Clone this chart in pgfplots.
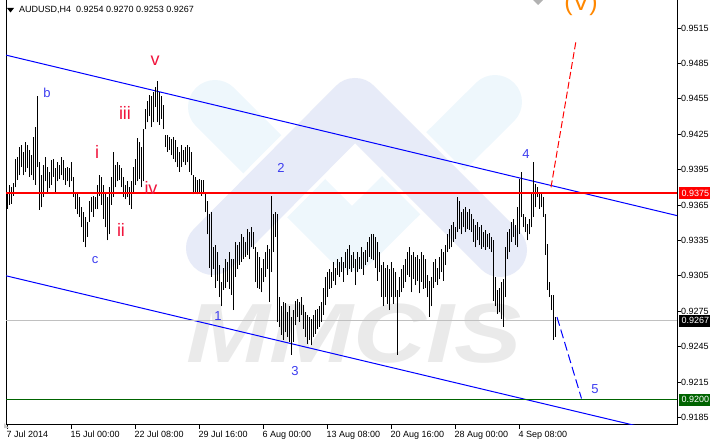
\documentclass[border=0pt]{standalone}
\usepackage{pgfplots}
\pgfplotsset{compat=1.18}
\usepackage{pgfplotstable}
\usepackage{fontspec}
\setmainfont{Liberation Sans}
\definecolor{wavered}{RGB}{240,20,60}
\definecolor{waveblue}{RGB}{60,60,240}
\definecolor{waveorange}{RGB}{255,135,0}
\definecolor{wmblue}{RGB}{238,247,252}
\definecolor{wmlav}{RGB}{231,235,248}
\definecolor{wmgray}{RGB}{234,234,234}
\definecolor{lvlred}{RGB}{255,0,0}
\definecolor{lvlgreen}{RGB}{0,100,0}
\definecolor{lvlgray}{RGB}{192,192,192}

\pgfplotstableread{
i h l
0 0.9376 0.9362
1 0.9382 0.9365
2 0.9380 0.9366
3 0.9384 0.9373
4 0.9404 0.9380
5 0.9406 0.9386
6 0.9414 0.9390
7 0.9416 0.9397
8 0.9410 0.9390
9 0.9418 0.9393
10 0.9416 0.9396
11 0.9412 0.9389
12 0.9407 0.9390
13 0.9423 0.9386
14 0.9431 0.9382
15 0.9457 0.9397
16 0.9401 0.9361
17 0.9390 0.9363
18 0.9399 0.9372
19 0.9406 0.9385
20 0.9397 0.9376
21 0.9393 0.9379
22 0.9403 0.9382
23 0.9404 0.9389
24 0.9396 0.9375
25 0.9401 0.9385
26 0.9399 0.9387
27 0.9406 0.9390
28 0.9403 0.9386
29 0.9396 0.9382
30 0.9397 0.9385
31 0.9396 0.9380
32 0.9401 0.9385
33 0.9389 0.9372
34 0.9376 0.9362
35 0.9376 0.9357
36 0.9372 0.9355
37 0.9363 0.9346
38 0.9359 0.9334
39 0.9355 0.9329
40 0.9351 0.9338
41 0.9368 0.9351
42 0.9372 0.9359
43 0.9373 0.9355
44 0.9372 0.9362
45 0.9382 0.9362
46 0.9390 0.9373
47 0.9389 0.9365
48 0.9382 0.9353
49 0.9376 0.9346
50 0.9372 0.9335
51 0.9380 0.9340
52 0.9389 0.9365
53 0.9410 0.9372
54 0.9399 0.9380
55 0.9401 0.9385
56 0.9399 0.9386
57 0.9396 0.9380
58 0.9389 0.9372
59 0.9382 0.9370
60 0.9385 0.9372
61 0.9380 0.9365
62 0.9385 0.9362
63 0.9397 0.9376
64 0.9404 0.9382
65 0.9422 0.9385
66 0.9418 0.9387
67 0.9414 0.9380
68 0.9429 0.9385
69 0.9446 0.9429
70 0.9453 0.9435
71 0.9458 0.9440
72 0.9457 0.9431
73 0.9461 0.9435
74 0.9465 0.9448
75 0.9470 0.9435
76 0.9461 0.9433
77 0.9457 0.9438
78 0.9450 0.9429
79 0.9424 0.9414
80 0.9424 0.9410
81 0.9423 0.9412
82 0.9421 0.9407
83 0.9423 0.9404
84 0.9420 0.9401
85 0.9414 0.9397
86 0.9410 0.9393
87 0.9416 0.9397
88 0.9412 0.9401
89 0.9414 0.9399
90 0.9416 0.9401
91 0.9414 0.9393
92 0.9410 0.9390
93 0.9390 0.9374
94 0.9389 0.9376
95 0.9386 0.9374
96 0.9387 0.9375
97 0.9386 0.9373
98 0.9386 0.9374
99 0.9375 0.9359
100 0.9368 0.9340
101 0.9357 0.9312
102 0.9359 0.9304
103 0.9329 0.9311
104 0.9331 0.9295
105 0.9325 0.9301
106 0.9314 0.9287
107 0.9300 0.9279
108 0.9312 0.9293
109 0.9319 0.9295
110 0.9317 0.9300
111 0.9325 0.9294
112 0.9319 0.9289
113 0.9319 0.9276
114 0.9334 0.9304
115 0.9331 0.9311
116 0.9334 0.9314
117 0.9340 0.9317
118 0.9338 0.9319
119 0.9334 0.9321
120 0.9345 0.9323
121 0.9342 0.9319
122 0.9346 0.9329
123 0.9342 0.9328
124 0.9329 0.9300
125 0.9325 0.9295
126 0.9321 0.9294
127 0.9312 0.9291
128 0.9319 0.9300
129 0.9325 0.9304
130 0.9331 0.9311
131 0.9328 0.9283
132 0.9373 0.9308
133 0.9357 0.9325
134 0.9359 0.9338
135 0.9357 0.9266
136 0.9287 0.9262
137 0.9279 0.9255
138 0.9283 0.9251
139 0.9282 0.9257
140 0.9274 0.9253
141 0.9279 0.9249
142 0.9270 0.9238
143 0.9276 0.9249
144 0.9284 0.9263
145 0.9285 0.9270
146 0.9283 0.9266
147 0.9287 0.9272
148 0.9280 0.9260
149 0.9274 0.9253
150 0.9272 0.9247
151 0.9270 0.9251
152 0.9268 0.9246
153 0.9272 0.9253
154 0.9276 0.9256
155 0.9277 0.9260
156 0.9279 0.9262
157 0.9283 0.9266
158 0.9295 0.9272
159 0.9304 0.9280
160 0.9308 0.9287
161 0.9311 0.9294
162 0.9308 0.9295
163 0.9317 0.9301
164 0.9312 0.9297
165 0.9319 0.9306
166 0.9317 0.9304
167 0.9321 0.9308
168 0.9317 0.9300
169 0.9325 0.9312
170 0.9328 0.9306
171 0.9331 0.9311
172 0.9323 0.9308
173 0.9325 0.9312
174 0.9319 0.9297
175 0.9325 0.9308
176 0.9321 0.9311
177 0.9329 0.9311
178 0.9325 0.9306
179 0.9327 0.9314
180 0.9334 0.9317
181 0.9338 0.9321
182 0.9340 0.9319
183 0.9340 0.9318
184 0.9338 0.9312
185 0.9334 0.9301
186 0.9325 0.9308
187 0.9314 0.9287
188 0.9317 0.9279
189 0.9312 0.9287
190 0.9314 0.9281
191 0.9311 0.9276
192 0.9317 0.9287
193 0.9312 0.9281
194 0.9308 0.9287
195 0.9293 0.9238
196 0.9304 0.9287
197 0.9311 0.9291
198 0.9314 0.9295
199 0.9319 0.9300
200 0.9325 0.9306
201 0.9329 0.9304
202 0.9323 0.9291
203 0.9325 0.9302
204 0.9321 0.9297
205 0.9323 0.9301
206 0.9319 0.9290
207 0.9325 0.9300
208 0.9323 0.9294
209 0.9319 0.9295
210 0.9306 0.9287
211 0.9301 0.9270
212 0.9304 0.9279
213 0.9317 0.9295
214 0.9319 0.9300
215 0.9312 0.9297
216 0.9321 0.9302
217 0.9328 0.9308
218 0.9325 0.9301
219 0.9331 0.9314
220 0.9340 0.9325
221 0.9345 0.9328
222 0.9348 0.9329
223 0.9351 0.9334
224 0.9346 0.9336
225 0.9372 0.9342
226 0.9368 0.9345
227 0.9359 0.9340
228 0.9362 0.9346
229 0.9363 0.9342
230 0.9359 0.9345
231 0.9362 0.9344
232 0.9357 0.9342
233 0.9353 0.9334
234 0.9348 0.9329
235 0.9351 0.9335
236 0.9346 0.9331
237 0.9348 0.9328
238 0.9342 0.9329
239 0.9344 0.9327
240 0.9340 0.9329
241 0.9341 0.9328
242 0.9338 0.9325
243 0.9335 0.9284
244 0.9304 0.9279
245 0.9293 0.9273
246 0.9295 0.9274
247 0.9300 0.9268
248 0.9302 0.9262
249 0.9329 0.9287
250 0.9342 0.9319
251 0.9345 0.9325
252 0.9351 0.9334
253 0.9353 0.9338
254 0.9348 0.9331
255 0.9363 0.9329
256 0.9387 0.9340
257 0.9393 0.9355
258 0.9357 0.9346
259 0.9355 0.9342
260 0.9349 0.9335
261 0.9353 0.9340
262 0.9376 0.9346
263 0.9401 0.9355
264 0.9383 0.9363
265 0.9380 0.9372
266 0.9374 0.9362
267 0.9374 0.9363
268 0.9372 0.9355
269 0.9357 0.9323
270 0.9332 0.9293
271 0.9300 0.9287
272 0.9289 0.9276
273 0.9289 0.9251
274 0.9270 0.9253
}\bars

\pgfplotstableread{
i p
-0.5 0.9375
335 0.9375
}\redlevel

\begin{document}
\begin{tikzpicture}[x=1pt,y=1pt]
% watermark (background)
\draw[wmblue, line width=54pt, line cap=round, line join=round] (215,338) -- (352,201) -- (495,343);
\draw[white, line width=62pt, line cap=round, line join=round] (213,197) -- (355,340) -- (500,195);
\draw[wmlav, line width=54pt, line cap=round, line join=round] (213,197) -- (355,340) -- (500,195);
\node[text=wmgray, font=\fontsize{84}{84}\selectfont\bfseries\itshape, xscale=1.2, inner sep=0pt] at (354,111) {MMCIS};

\begin{axis}[
  at={(3,17)}, anchor=south west, width=671pt, height=428pt, scale only axis,
  xmin=-0.5, xmax=335, ymin=0.91786, ymax=0.95413,
  axis line style={black, line width=1pt},
  tick align=outside, ytick pos=right, xtick pos=bottom, yticklabel pos=right,
  major tick length=4pt, tick style={black, line width=0.8pt},
  scaled y ticks=false,
  xtick={0,32,64,96,128,160,192,224,256},
  xticklabels={7 Jul 2014,15 Jul 00:00,22 Jul 08:00,29 Jul 16:00,6 Aug 00:00,13 Aug 08:00,20 Aug 16:00,28 Aug 00:00,4 Sep 08:00},
  xticklabel style={anchor=north west, inner sep=0pt, xshift=-0.5pt, yshift=-2pt, font=\fontsize{9}{10}\selectfont},
  ytick={0.9185,0.9215,0.9245,0.9275,0.9305,0.9335,0.9365,0.9395,0.9425,0.9455,0.9485,0.9515},
  yticklabel style={/pgf/number format/.cd, fixed, fixed zerofill, precision=4, assume math mode=true, /tikz/.cd, font=\fontsize{9}{10}\selectfont, anchor=west, inner sep=0pt, xshift=0pt},
  clip mode=individual,
]
% channel lines
\addplot[blue, line width=1pt] coordinates {(-0.5,0.9492) (335,0.9356)};
\addplot[blue, line width=1pt] coordinates {(-0.5,0.9305) (335,0.91697)};
% horizontal levels
\addplot[lvlgray, line width=1pt] coordinates {(-0.5,0.9267) (335,0.9267)};
\addplot[lvlgreen, line width=1pt] coordinates {(-0.5,0.9200) (335,0.9200)};
% price bars (high-low)
\addplot[draw=none, mark=none, forget plot,
  error bars/.cd, y dir=plus, y explicit, error mark=none,
  error bar style={draw=black, line width=1pt, solid}]
  table[x=i, y=l, y error expr=\thisrow{h}-\thisrow{l}] {\bars};
\addplot[red, line width=1.4pt, solid, mark=none] table[x=i, y=p] {\redlevel};
% projections
\addplot[lvlred, line width=1pt, dash pattern=on 7pt off 3pt] coordinates {(272,0.9380) (284.5,0.9504)};
\addplot[blue, line width=1pt, dash pattern=on 9pt off 4pt] coordinates {(275,0.9270) (287.25,0.9201)};
% wave labels
\node[text=wavered, font=\fontsize{18}{18}\selectfont] at (axis cs:74,0.9487) {v};
\node[text=wavered, font=\fontsize{18}{18}\selectfont] at (axis cs:59,0.9443) {iii};
\node[text=wavered, font=\fontsize{18}{18}\selectfont] at (axis cs:45,0.9410) {i};
\node[text=wavered, font=\fontsize{18}{18}\selectfont] at (axis cs:72,0.9379) {iv};
\node[text=wavered, font=\fontsize{18}{18}\selectfont] at (axis cs:57,0.9344) {ii};
\node[text=waveblue, font=\fontsize{13}{13}\selectfont] at (axis cs:20,0.9460) {b};
\node[text=waveblue, font=\fontsize{13}{13}\selectfont] at (axis cs:44,0.9318) {c};
\node[text=waveblue, font=\fontsize{13}{13}\selectfont] at (axis cs:105.5,0.9271) {1};
\node[text=waveblue, font=\fontsize{13}{13}\selectfont] at (axis cs:137,0.9396) {2};
\node[text=waveblue, font=\fontsize{13}{13}\selectfont] at (axis cs:144,0.9224) {3};
\node[text=waveblue, font=\fontsize{13}{13}\selectfont] at (axis cs:259.5,0.9408) {4};
\node[text=waveblue, font=\fontsize{13}{13}\selectfont] at (axis cs:294,0.9209) {5};
\node[text=waveorange, font=\fontsize{25}{25}\selectfont, anchor=base] at (axis cs:287,0.9530) {(V)};
% level price boxes
\node[fill=lvlred, text=white, font=\fontsize{9}{10}\selectfont, inner xsep=3pt, inner ysep=0pt, minimum height=12pt, anchor=west] at (axis cs:335,0.9375) [xshift=1.5pt] {0.9375};
\node[fill=black, text=white, font=\fontsize{9}{10}\selectfont, inner xsep=3pt, inner ysep=0pt, minimum height=12pt, anchor=west] at (axis cs:335,0.9267) [xshift=1.5pt] {0.9267};
\node[fill=lvlgreen, text=white, font=\fontsize{9}{10}\selectfont, inner xsep=3pt, inner ysep=0pt, minimum height=12pt, anchor=west] at (axis cs:335,0.9200) [xshift=1.5pt] {0.9200};
\end{axis}
% chart header
\fill[black] (7,437) -- (14,437) -- (10.5,432.5) -- cycle;
\node[anchor=base west, inner sep=0pt, font=\fontsize{9}{10}\selectfont] at (19,432) {AUDUSD,H4\ \ 0.9254 0.9270 0.9253 0.9267};
\fill[gray!60] (533,445) -- (543,445) -- (538,440) -- cycle;
\fill[gray!40] (4,17) -- (9,17) -- (4,22) -- cycle;
\pgfresetboundingbox
\path[use as bounding box] (0,0) rectangle (710,445);
\end{tikzpicture}
\end{document}
